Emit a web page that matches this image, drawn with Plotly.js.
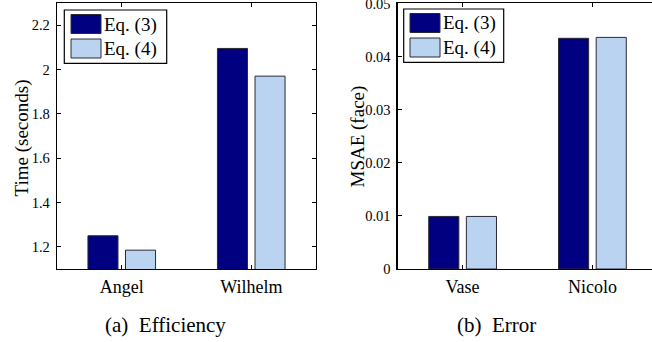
<!DOCTYPE html>
<html>
<head>
<meta charset="utf-8">
<script src="https://cdn.plot.ly/plotly-3.0.1.min.js"></script>
<style>html,body{margin:0;padding:0;background:#fff;}#chart{width:652px;height:342px;}</style>
</head>
<body>
<div id="chart"></div>
<script>
// ---- data ----
const seriesNames = ["Eq. (3)", "Eq. (4)"];
const timeCategories = ["Angel", "Wilhelm"];
const timeEq3 = [1.25, 2.095];
const timeEq4 = [1.185, 1.97];
const errCategories = ["Vase", "Nicolo"];
const errEq3 = [0.0099, 0.04345];
const errEq4 = [0.0099, 0.04362];
const timeTicks = [1.2, 1.4, 1.6, 1.8, 2, 2.2];
const timeTickLabels = ["1.2", "1.4", "1.6", "1.8", "2", "2.2"];
const errTicks = [0, 0.01, 0.02, 0.03, 0.04, 0.05];
const errTickLabels = ["0", "0.01", "0.02", "0.03", "0.04", "0.05"];
const captions = ["(a)  Efficiency", "(b)  Error"];
const yTitles = ["Time (seconds)", "MSAE (face)"];

// ---- style ----
const W = 652, H = 342;
const FONT = "Times New Roman, Liberation Serif, Times, serif";
const colors = ["#000080", "#b9d3f1"];
const edge = "#2a2a35";
const px = x => x / W;
const py = y => 1 - y / H;

function barTrace(x, y, i, xa, ya) {
  return {type: "bar", x: x, y: y, name: seriesNames[i], xaxis: xa, yaxis: ya,
    marker: {color: colors[i], line: {color: edge, width: 1}}, showlegend: false, hoverinfo: "none"};
}

const traces = [
  barTrace(timeCategories, timeEq3, 0, "x", "y"),
  barTrace(timeCategories, timeEq4, 1, "x", "y"),
  barTrace(errCategories, errEq3, 0, "x2", "y2"),
  barTrace(errCategories, errEq4, 1, "x2", "y2")
];

const yDom = [py(269), py(3)];
const axCommon = {showline: true, linecolor: "#000", linewidth: 1.3, ticks: "inside", ticklen: 4,
  tickcolor: "#000", tickwidth: 1, showgrid: false, zeroline: false, fixedrange: true,
  ticklabeloverflow: "allow"};

function xAxis(dom, range, mirror) {
  return Object.assign({}, axCommon, {domain: dom, range: range, mirror: mirror,
    tickfont: {family: FONT, size: 18, color: "#000"}, ticklabelstandoff: 1});
}
function yAxis(tv, tt, range, mirror) {
  return Object.assign({}, axCommon, {domain: yDom, range: range, tickvals: tv, ticktext: tt, mirror: mirror,
    tickfont: {family: FONT, size: 14.5, color: "#000"}, ticklabelstandoff: 3});
}

const layout = {
  width: W, height: H, margin: {l: 0, r: 0, t: 0, b: 0},
  paper_bgcolor: "#fff", plot_bgcolor: "#fff",
  barmode: "group", bargap: 0.42, bargroupgap: 0.2,
  font: {family: FONT, color: "#000"},
  xaxis: Object.assign(xAxis([px(57), px(316)], [-0.5, 1.5], "ticks"), {anchor: "y"}),
  yaxis: Object.assign(yAxis(timeTicks, timeTickLabels, [1.1, 2.3], "ticks"), {anchor: "x"}),
  xaxis2: Object.assign(xAxis([px(397.7), 1], [-0.5, 1.459], "ticks"), {anchor: "y2"}),
  yaxis2: Object.assign(yAxis(errTicks, errTickLabels, [0, 0.0501], false), {anchor: "x2"}),
  shapes: [], annotations: []
};

// y-axis titles (rotated)
[[21.5, 138, yTitles[0]], [357, 136.5, yTitles[1]]].forEach(t => {
  layout.annotations.push({xref: "paper", yref: "paper", x: px(t[0]), y: py(t[1]), text: t[2], textangle: -90,
    showarrow: false, xanchor: "center", yanchor: "middle", font: {family: FONT, size: 19, color: "#000"}});
});

// captions
layout.annotations.push({xref: "paper", yref: "paper", x: px(166), y: py(325), text: captions[0],
  showarrow: false, xanchor: "center", yanchor: "middle", font: {family: FONT, size: 21, color: "#000"}});
layout.annotations.push({xref: "paper", yref: "paper", x: px(496), y: py(325), text: captions[1],
  showarrow: false, xanchor: "center", yanchor: "middle", font: {family: FONT, size: 21, color: "#000"}});

// legends (MATLAB-style boxed legend with large swatches)
function legend(bx0, by0, bx1, by1, sx0) {
  layout.shapes.push({type: "rect", xref: "paper", yref: "paper", x0: px(bx0), x1: px(bx1), y0: py(by1), y1: py(by0),
    line: {color: "#000", width: 1.2}, fillcolor: "#fff", layer: "above"});
  const rows = [[by0 + 4.5, by0 + 23.5], [by0 + 29, by0 + 48]];
  rows.forEach((r, i) => {
    layout.shapes.push({type: "rect", xref: "paper", yref: "paper", x0: px(sx0), x1: px(sx0 + 30), y0: py(r[1]), y1: py(r[0]),
      line: {color: edge, width: 1}, fillcolor: colors[i], layer: "above"});
    layout.annotations.push({xref: "paper", yref: "paper", x: px(sx0 + 31), y: py((r[0] + r[1]) / 2 + 0.5), text: seriesNames[i],
      showarrow: false, xanchor: "left", yanchor: "middle", font: {family: FONT, size: 19, color: "#000"}});
  });
}
legend(64.3, 10, 166.7, 63.3, 71);
legend(403.7, 9, 503.7, 62.3, 410);

Plotly.newPlot("chart", traces, layout, {staticPlot: true, displayModeBar: false});
</script>
</body>
</html>
